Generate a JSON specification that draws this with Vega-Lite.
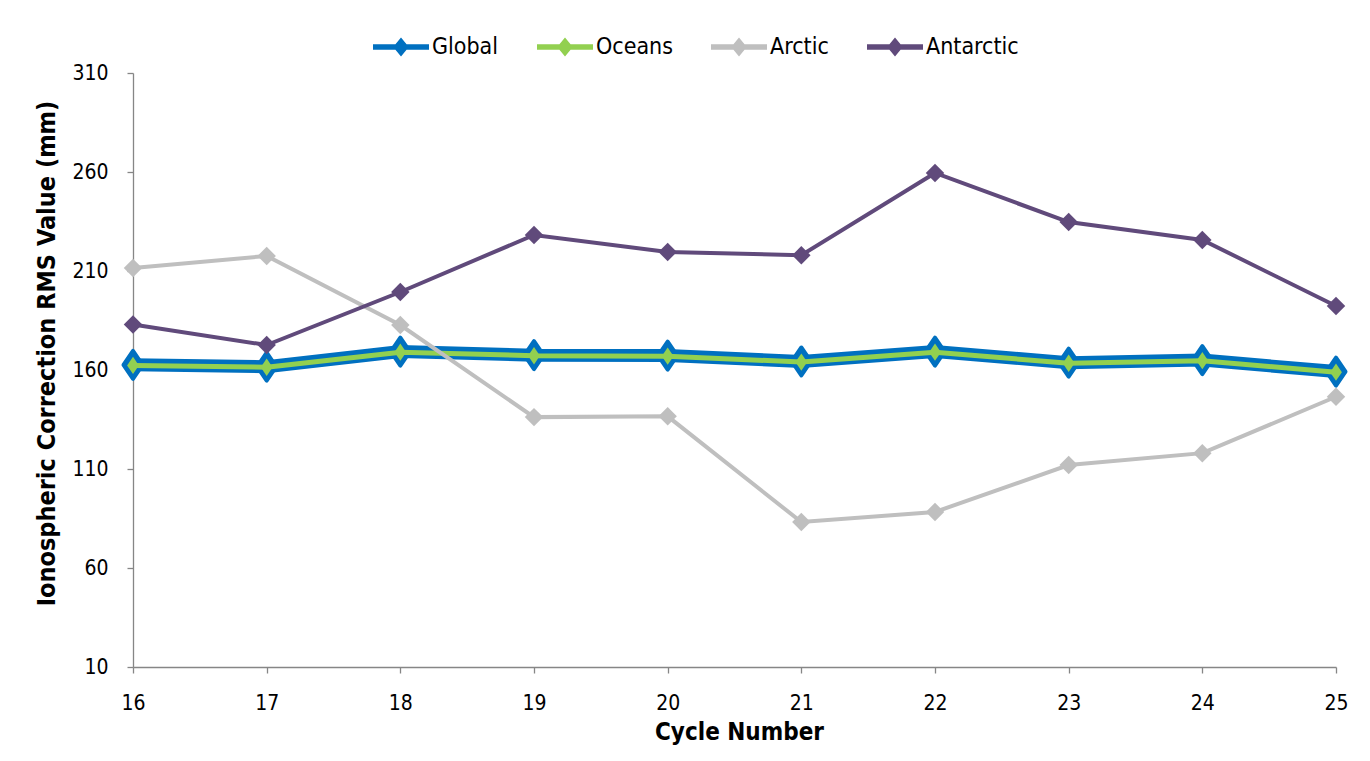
{
  "$schema": "https://vega.github.io/schema/vega-lite/v6.json",
  "width": 1203,
  "height": 594,
  "autosize": {"type": "none"},
  "padding": {"left": 133, "top": 73, "right": 34, "bottom": 94},
  "background": "white",
  "config": {
    "font": "Liberation Sans Narrow, DejaVu Sans Condensed, sans-serif",
    "view": {"stroke": null},
    "axis": {
      "domainColor": "#868686",
      "tickColor": "#868686",
      "domainWidth": 1.3,
      "tickWidth": 1.3,
      "tickSize": 6,
      "grid": false,
      "labelColor": "#000000",
      "labelFontSize": 21,
      "labelFlush": false,
      "titleColor": "#000000",
      "titleFontSize": 24,
      "titleFontWeight": "bold"
    }
  },
  "data": {
    "values": [
      {"cycle": 16, "series": "Global", "value": 162.6},
      {"cycle": 17, "series": "Global", "value": 161.7},
      {"cycle": 18, "series": "Global", "value": 169.3},
      {"cycle": 19, "series": "Global", "value": 167.5},
      {"cycle": 20, "series": "Global", "value": 167.3},
      {"cycle": 21, "series": "Global", "value": 164.3},
      {"cycle": 22, "series": "Global", "value": 169.3},
      {"cycle": 23, "series": "Global", "value": 163.7},
      {"cycle": 24, "series": "Global", "value": 165.0},
      {"cycle": 25, "series": "Global", "value": 159.2},
      {"cycle": 16, "series": "Oceans", "value": 162.3},
      {"cycle": 17, "series": "Oceans", "value": 161.4},
      {"cycle": 18, "series": "Oceans", "value": 169.0},
      {"cycle": 19, "series": "Oceans", "value": 167.2},
      {"cycle": 20, "series": "Oceans", "value": 167.0},
      {"cycle": 21, "series": "Oceans", "value": 164.0},
      {"cycle": 22, "series": "Oceans", "value": 169.0},
      {"cycle": 23, "series": "Oceans", "value": 163.4},
      {"cycle": 24, "series": "Oceans", "value": 164.7},
      {"cycle": 25, "series": "Oceans", "value": 158.9},
      {"cycle": 16, "series": "Arctic", "value": 211.5},
      {"cycle": 17, "series": "Arctic", "value": 217.6},
      {"cycle": 18, "series": "Arctic", "value": 182.7},
      {"cycle": 19, "series": "Arctic", "value": 136.2},
      {"cycle": 20, "series": "Arctic", "value": 136.6},
      {"cycle": 21, "series": "Arctic", "value": 83.2},
      {"cycle": 22, "series": "Arctic", "value": 88.3},
      {"cycle": 23, "series": "Arctic", "value": 112.0},
      {"cycle": 24, "series": "Arctic", "value": 118.0},
      {"cycle": 25, "series": "Arctic", "value": 146.5},
      {"cycle": 16, "series": "Antarctic", "value": 183.0},
      {"cycle": 17, "series": "Antarctic", "value": 172.6},
      {"cycle": 18, "series": "Antarctic", "value": 199.4},
      {"cycle": 19, "series": "Antarctic", "value": 228.2},
      {"cycle": 20, "series": "Antarctic", "value": 219.6},
      {"cycle": 21, "series": "Antarctic", "value": 218.0},
      {"cycle": 22, "series": "Antarctic", "value": 259.5},
      {"cycle": 23, "series": "Antarctic", "value": 234.7},
      {"cycle": 24, "series": "Antarctic", "value": 225.7},
      {"cycle": 25, "series": "Antarctic", "value": 192.3}
    ]
  },
  "encoding": {
    "x": {
      "field": "cycle",
      "type": "quantitative",
      "scale": {"domain": [16, 25], "nice": false, "zero": false},
      "axis": {
        "values": [16, 17, 18, 19, 20, 21, 22, 23, 24, 25],
        "format": "d",
        "labelPadding": 19,
        "title": "Cycle Number",
        "titlePadding": 7,
        "titleX": 606
      }
    },
    "y": {
      "field": "value",
      "type": "quantitative",
      "scale": {"domain": [10, 310], "nice": false, "zero": false},
      "axis": {
        "values": [10, 60, 110, 160, 210, 260, 310],
        "format": "d",
        "labelPadding": 19,
        "title": "Ionospheric Correction RMS Value (mm)",
        "titleFontSize": 25,
        "titlePadding": 12,
        "titleY": 280
      }
    },
    "color": {
      "field": "series",
      "type": "nominal",
      "scale": {
        "domain": ["Global", "Oceans", "Arctic", "Antarctic"],
        "range": ["#0070C0", "#92D050", "#BFBFBF", "#604A7B"]
      },
      "legend": {
        "title": null,
        "orient": "none",
        "direction": "horizontal",
        "legendX": 240,
        "legendY": -54,
        "symbolType": "M-1,-0.1H1V0.1H-1Z M0,-0.34L0.28,0L0,0.34L-0.28,0Z",
        "symbolSize": 3136,
        "symbolStrokeWidth": 0,
        "labelFontSize": 23,
        "labelOffset": 3,
        "columnPadding": 38,
        "labelColor": "#000000",
        "encoding": {
          "symbols": {
            "update": {
              "fill": {"scale": "color", "field": "value"},
              "fillOpacity": {"value": 1},
              "strokeWidth": {"value": 0}
            }
          }
        }
      }
    }
  },
  "layer": [
    {
      "transform": [{"filter": "datum.series === 'Global'"}],
      "mark": {
        "type": "line",
        "strokeWidth": 13,
        "point": {"shape": "M0,-1L0.68,0L0,1L-0.68,0Z", "size": 784, "filled": true, "stroke": "#0070C0", "strokeWidth": 4, "strokeJoin": "round"}
      }
    },
    {
      "transform": [{"filter": "datum.series === 'Oceans'"}],
      "mark": {
        "type": "line",
        "strokeWidth": 5,
        "point": {"shape": "M0,-1L0.68,0L0,1L-0.68,0Z", "size": 300, "filled": true}
      }
    },
    {
      "transform": [{"filter": "datum.series === 'Arctic'"}],
      "mark": {
        "type": "line",
        "strokeWidth": 4,
        "point": {"shape": "diamond", "size": 340, "filled": true}
      }
    },
    {
      "transform": [{"filter": "datum.series === 'Antarctic'"}],
      "mark": {
        "type": "line",
        "strokeWidth": 4,
        "point": {"shape": "diamond", "size": 340, "filled": true}
      }
    }
  ]
}
